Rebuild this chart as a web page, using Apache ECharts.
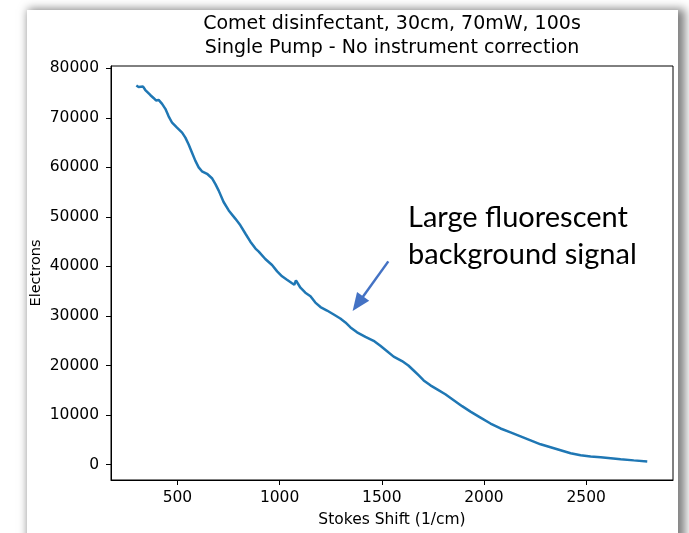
<!DOCTYPE html>
<html>
<head>
<meta charset="utf-8">
<script src="https://cdn.jsdelivr.net/npm/echarts@6/dist/echarts.min.js"></script>
<style>
  html, body { margin: 0; padding: 0; background: #ffffff; overflow: hidden; }
  #panel { position: absolute; left: 27px; top: 10px; width: 651px; height: 600px; background: #fff;
           box-shadow: 4px 2px 9px 3px rgba(0,0,0,0.5); }
  #chart { position: absolute; left: 0; top: 0; width: 689px; height: 533px; }
</style>
</head>
<body>
<div id="panel"></div>
<div id="chart"></div>
<script>
// Stokes shift (1/cm)
const shift = [299, 310, 318, 332, 343, 367, 383, 395, 408, 425, 441, 457, 474, 498, 523, 539, 555, 571, 588, 604,
  620, 645, 669, 686, 702, 726, 751, 784, 808, 833, 857, 882, 898, 930, 963, 988, 1012, 1036, 1061, 1072,
  1080, 1088, 1102, 1126, 1151, 1175, 1200, 1232, 1265, 1297, 1322, 1347, 1379, 1420, 1460, 1493, 1526, 1558,
  1599, 1630, 1656, 1681, 1705, 1738, 1771, 1811, 1852, 1893, 1934, 1983, 2032, 2081, 2130, 2179, 2228, 2277,
  2326, 2375, 2424, 2473, 2522, 2571, 2620, 2669, 2733, 2799];
// Electrons
const electrons = [76500, 76200, 76500, 76300, 75600, 74600, 74000, 73500, 73600, 72800, 71800, 70300, 69000, 68000,
  67000, 66000, 64600, 63000, 61300, 60000, 59200, 58700, 57800, 56600, 55300, 53000, 51300, 49600, 48300, 46600,
  45000, 43600, 43000, 41500, 40300, 39000, 38000, 37300, 36600, 36300, 37200, 37000, 35700, 34700, 34000, 32700,
  31800, 31100, 30300, 29500, 28700, 27700, 26700, 25800, 25000, 24000, 22900, 21800, 20900, 20000, 19000, 18000,
  17000, 16000, 15200, 14200, 13000, 11800, 10700, 9500, 8300, 7300, 6500, 5700, 4900, 4100, 3500, 2900, 2300,
  1900, 1650, 1500, 1300, 1100, 860, 650];
const xTicks = [500, 1000, 1500, 2000, 2500];
const yTicks = [0, 10000, 20000, 30000, 40000, 50000, 60000, 70000, 80000];
const titleLines = ['Comet disinfectant, 30cm, 70mW, 100s', 'Single Pump - No instrument correction'];
const annotationText = ['Large fluorescent', 'background signal'];
// arrow (data space): start and end
const arrowFrom = [1532, 41020];
const arrowTo = [1383, 32480];

const font = 'DejaVu Sans';
const plain = v => String(v);
const chart = echarts.init(document.getElementById('chart'), null, { renderer: 'canvas' });
chart.setOption({
  animation: false,
  backgroundColor: 'transparent',
  title: {
    text: titleLines.join('\n'),
    left: 392, top: 12, textAlign: 'center', padding: 0,
    textStyle: { fontFamily: font, fontSize: 19, fontWeight: 'normal', color: '#000', lineHeight: 24 }
  },
  grid: { left: 111, right: 16, top: 66, bottom: 49, show: true, borderColor: '#000', borderWidth: 1 },
  xAxis: {
    type: 'value', min: 175, max: 2925,
    name: 'Stokes Shift (1/cm)', nameLocation: 'middle', nameGap: 32, nameMoveOverlap: false,
    nameTextStyle: { fontFamily: font, fontSize: 15.5, color: '#000', verticalAlign: 'top' },
    axisLine: { show: true, onZero: false, lineStyle: { color: '#000', width: 1 } },
    axisTick: { show: true, length: 5, customValues: xTicks, lineStyle: { color: '#000' } },
    axisLabel: { customValues: xTicks, formatter: plain, fontFamily: font, fontSize: 15.5, color: '#000', margin: 10 },
    splitLine: { show: false }
  },
  yAxis: {
    type: 'value', min: -3100, max: 80450,
    name: 'Electrons', nameLocation: 'middle', nameGap: 67, nameMoveOverlap: false,
    nameTextStyle: { fontFamily: font, fontSize: 14.5, color: '#000' },
    axisLine: { show: true, onZero: false, lineStyle: { color: '#000', width: 1 } },
    axisTick: { show: true, length: 5, customValues: yTicks, lineStyle: { color: '#000' } },
    axisLabel: { customValues: yTicks, formatter: plain, fontFamily: font, fontSize: 15.5, color: '#000', margin: 12 },
    splitLine: { show: false }
  },
  series: [{
    type: 'line',
    data: shift.map((x, i) => [x, electrons[i]]),
    showSymbol: false,
    lineStyle: { color: '#1f77b4', width: 2.5 },
    itemStyle: { color: '#1f77b4' },
    silent: true,
    markLine: {
      silent: true,
      symbol: ['none', 'triangle'],
      symbolSize: [15, 18],
      label: { show: false },
      lineStyle: { color: '#4472C4', width: 2.5, type: 'solid' },
      itemStyle: { color: '#4472C4' },
      data: [[{ coord: arrowFrom }, { coord: arrowTo }]]
    }
  }],
  graphic: [{
    type: 'text', left: 408, top: 199, silent: true,
    style: { text: annotationText.join('\n'), font: '29px Lato', fill: '#000', lineHeight: 37 }
  }]
});
</script>
</body>
</html>
